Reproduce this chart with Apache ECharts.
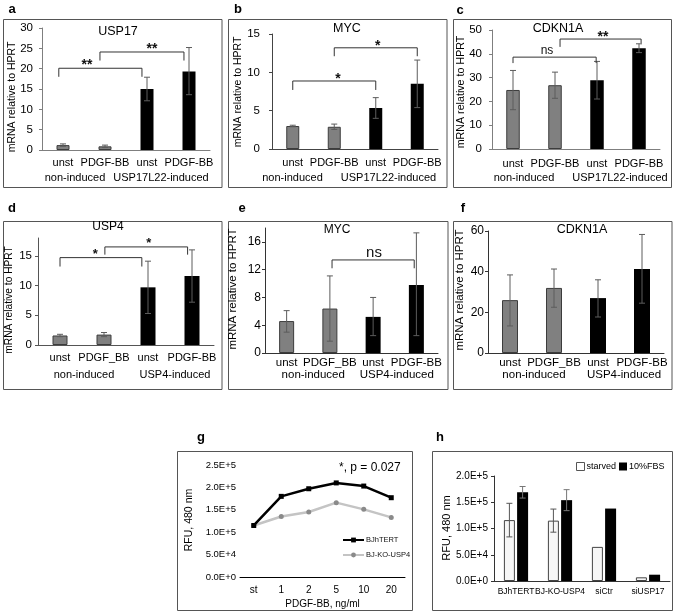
<!DOCTYPE html>
<html>
<head>
<meta charset="utf-8">
<script src="https://cdn.jsdelivr.net/npm/echarts@6/dist/echarts.min.js"></script>
<style>html,body{margin:0;padding:0;background:#fff}#chart{width:675px;height:612px}</style>
</head>
<body>
<div id="chart"></div>
<script>
// ---------------- data ----------------
const topCats = ['unst', 'PDGF-BB', 'unst', 'PDGF-BB'];
const midCats = ['unst', 'PDGF_BB', 'unst', 'PDGF-BB'];
const topGroups = ['non-induced', 'USP17L22-induced'];
const midGroups = ['non-induced', 'USP4-induced'];

const usp17Values = [1.2, 0.9, 15.0, 19.3];
const usp17Errors = [[0.9, 1.5], [0.6, 1.2], [12.1, 17.9], [13.6, 25.2]];
const mycBValues = [3.0, 2.9, 5.35, 8.5];
const mycBErrors = [[2.9, 3.1], [2.55, 3.25], [4.0, 6.7], [5.4, 11.6]];
const cdkn1aCValues = [24.8, 26.8, 28.9, 42.3];
const cdkn1aCErrors = [[16.5, 33.0], [21.3, 32.3], [21.0, 36.8], [40.5, 44.2]];
const usp4Values = [1.6, 1.75, 9.7, 11.6];
const usp4Errors = [[1.4, 1.8], [1.4, 2.1], [5.3, 14.1], [7.2, 16.0]];
const mycEValues = [4.6, 6.4, 5.2, 9.8];
const mycEErrors = [[3.0, 6.1], [1.7, 11.1], [2.5, 8.0], [2.5, 17.3]];
const cdkn1aFValues = [26.0, 32.0, 27.0, 41.3];
const cdkn1aFErrors = [[13.3, 38.4], [22.5, 41.3], [17.7, 36.0], [24.5, 58.3]];

// significance brackets: [fromCat, toCat, topValue, leftEndValue, rightEndValue, labelCat, labelValue, text]
const usp17Brackets = [[-0.1, 1.88, 20.1, 18.0, 18.0, 0.57, 20.8, '**'], [0.88, 2.88, 24.1, 22.0, 22.0, 2.12, 24.8, '**']];
const mycBBrackets = [[0, 2, 8.87, 7.7, 7.7, 1.09, 9.1, '*'], [1, 3, 13.2, 12.1, 12.1, 2.05, 13.4, '*']];
const cdkn1aCBrackets = [[0, 1.98, 38.6, 36.1, 36.1, 0.81, 41.2, 'ns'], [1.12, 3.05, 46.2, 42.9, 44.5, 2.14, 46.8, '**']];
const usp4Brackets = [[0, 1.86, 14.7, 13.2, 13.2, 0.8, 15.3, '*'], [1.02, 2.9, 16.5, 15.2, 15.2, 2.02, 17.1, '*']];
const mycEBrackets = [[1.05, 2.95, 13.4, 12.2, 12.2, 2.02, 14.4, 'ns']];
const cdkn1aFBrackets = [];

const doseLabels = ['st', '1', '2', '5', '10', '20'];
const bjhtertRFU = [1.15e5, 1.80e5, 1.97e5, 2.10e5, 2.03e5, 1.77e5];
const koUsp4RFU = [1.15e5, 1.35e5, 1.45e5, 1.66e5, 1.51e5, 1.33e5];
const lineNames = ['BJhTERT', 'BJ-KO-USP4'];

const cellLines = ['BJhTERT', 'BJ-KO-USP4', 'siCtr', 'siUSP17'];
const barNames = ['starved', '10%FBS'];
const starvedRFU = [1.16e5, 1.15e5, 6.5e4, 7.0e3];
const fbsRFU = [1.69e5, 1.54e5, 1.38e5, 1.2e4];
const starvedErrors = [[0.84e5, 1.48e5], [0.93e5, 1.37e5], null, null];
const fbsErrors = [[1.58e5, 1.80e5], [1.34e5, 1.74e5], null, null];

// ---------------- helpers ----------------
const FONT = "'Liberation Sans', Arial, sans-serif";
function pt(api, cat, val) {
  const base = api.coord([0, val]);
  const band = api.size([1, 0])[0];
  return [base[0] + cat * band, base[1]];
}
function errRender(offsetPx, color) {
  return function (params, api) {
    const cat = api.value(0), lo = api.value(1), hi = api.value(2);
    const a = pt(api, cat, lo), b = pt(api, cat, hi);
    const x = a[0] + offsetPx, cap = 3;
    const st = {stroke: color, lineWidth: 1, fill: null};
    return {type: 'group', children: [
      {type: 'line', shape: {x1: x, y1: a[1], x2: x, y2: b[1]}, style: st},
      {type: 'line', shape: {x1: x - cap, y1: a[1], x2: x + cap, y2: a[1]}, style: st},
      {type: 'line', shape: {x1: x - cap, y1: b[1], x2: x + cap, y2: b[1]}, style: st}
    ]};
  };
}
function bracketRender(list, textFont) {
  return function (params, api) {
    const b = list[params.dataIndex];
    const p1 = pt(api, b[0], b[3]), p2 = pt(api, b[0], b[2]), p3 = pt(api, b[1], b[2]), p4 = pt(api, b[1], b[4]);
    const t = pt(api, b[5], b[6]);
    const isStar = b[7].indexOf('*') >= 0;
    return {type: 'group', children: [
      {type: 'polyline', shape: {points: [p1, p2, p3, p4]}, style: {stroke: '#333', lineWidth: 1, fill: null}},
      {type: 'text', x: t[0], y: t[1], style: {text: b[7], font: isStar ? textFont.star : textFont.ns, fill: '#111',
        align: 'center', verticalAlign: 'middle', textAlign: 'center', textVerticalAlign: 'middle'}}
    ]};
  };
}
function shiftPad(s) { return s < 0 ? [0, -2 * s, 0, 0] : [0, 0, 0, 2 * s]; }
function sci(v) {
  if (v === 0) return '0.0E+0';
  const e = Math.floor(Math.log10(v) + 1e-9);
  return (v / Math.pow(10, e)).toFixed(1) + 'E+' + e;
}

// ---------------- panel layout ----------------
const panels = [
  {letter: 'a', lx: 12, ly: 9, box: [3.5, 19.5, 218.5, 168], grid: {left: 42, top: 28, width: 168, height: 122},
   max: 30, interval: 5, cats: topCats, groups: topGroups, gShift: [-9, -7], vals: usp17Values, errs: usp17Errors,
   brackets: usp17Brackets, title: 'USP17', tx: 118, ty: 32, tsize: 12.5, yn: [12, 97], ynSize: 10.5, lsize: 11,
   ymargin: 9, xmargin: 7, goff: 15, barW: 13, axisColor: '#7f7f7f', star: 'bold 14px', ns: '11px'},
  {letter: 'b', lx: 238, ly: 9, box: [228.5, 19.5, 218.5, 168], grid: {left: 272, top: 34, width: 166, height: 115},
   max: 15, interval: 5, cats: topCats, groups: topGroups, gShift: [-21, -8], vals: mycBValues, errs: mycBErrors,
   brackets: mycBBrackets, title: 'MYC', tx: 347, ty: 29, tsize: 12.5, yn: [238.5, 92], ynSize: 10.5, lsize: 11,
   ymargin: 12, xmargin: 8, goff: 15, barW: 13, axisColor: '#444', star: 'bold 14px', ns: '11px'},
  {letter: 'c', lx: 460, ly: 10, box: [453.5, 19.5, 218, 168], grid: {left: 492, top: 30, width: 168, height: 119},
   max: 50, interval: 10, cats: topCats, groups: topGroups, gShift: [-10, 2], vals: cdkn1aCValues, errs: cdkn1aCErrors,
   brackets: cdkn1aCBrackets, title: 'CDKN1A', tx: 558, ty: 29, tsize: 12.5, yn: [461, 92], ynSize: 10.7, lsize: 11,
   ymargin: 10, xmargin: 9, goff: 14, barW: 13.5, axisColor: '#7f7f7f', star: 'bold 14px', ns: '12px'},
  {letter: 'd', lx: 12, ly: 208, box: [3.5, 221.5, 218.5, 168], grid: {left: 38, top: 238, width: 176, height: 107},
   max: 18, interval: 5, ticks: [0, 5, 10, 15], cats: midCats, groups: midGroups, gShift: [2, 5], vals: usp4Values, errs: usp4Errors,
   brackets: usp4Brackets, title: 'USP4', tx: 108, ty: 227, tsize: 12, yn: [9, 300], ynSize: 10.2, lsize: 11,
   ymargin: 6, xmargin: 7, goff: 17, barW: 15, axisColor: '#555', star: 'bold 13px', ns: '12px'},
  {letter: 'e', lx: 242, ly: 208, box: [228.5, 221.5, 219.5, 168], grid: {left: 265, top: 228, width: 173, height: 125},
   max: 18, interval: 4, ticks: [0, 4, 8, 12, 16], cats: midCats, groups: midGroups, gShift: [5, 2], vals: mycEValues, errs: mycEErrors,
   brackets: mycEBrackets, title: 'MYC', tx: 337, ty: 230, tsize: 12, yn: [232.5, 289], ynSize: 11.5, lsize: 11.5,
   ymargin: 4, xmargin: 4, goff: 12, barW: 15, axisColor: '#333', star: 'bold 13px', ns: '15px'},
  {letter: 'f', lx: 463, ly: 208, box: [453.5, 221.5, 218.5, 168], grid: {left: 488, top: 231, width: 176, height: 122},
   max: 60, interval: 20, cats: midCats, groups: midGroups, gShift: [2, 4], vals: cdkn1aFValues, errs: cdkn1aFErrors,
   brackets: cdkn1aFBrackets, title: 'CDKN1A', tx: 582, ty: 230, tsize: 12.5, yn: [460, 290], ynSize: 11.5, lsize: 11.5,
   ymargin: 4, xmargin: 4, goff: 12, barW: 16, axisColor: '#333', star: 'bold 13px', ns: '12px'}
];

const option = {
  animation: false,
  backgroundColor: '#fff',
  textStyle: {fontFamily: FONT},
  grid: [], xAxis: [], yAxis: [], series: [], legend: [], graphic: []
};

const GRAY = {color: '#808080', borderColor: '#3c3c3c', borderWidth: 1};
const BLACK = {color: '#000'};

panels.forEach((p, i) => {
  option.grid.push(Object.assign({}, p.grid));
  const xi = option.xAxis.length;
  option.xAxis.push({type: 'category', gridIndex: i, data: p.cats,
    axisLine: {lineStyle: {color: p.axisColor, width: 1}}, axisTick: {show: false},
    axisLabel: {interval: 0, margin: p.xmargin, fontSize: p.lsize, color: '#000', fontFamily: FONT}});
  const rs = {fontSize: p.lsize, color: '#000', fontFamily: FONT};
  option.xAxis.push({type: 'category', gridIndex: i, position: 'bottom', offset: p.goff, data: p.groups,
    axisLine: {show: false}, axisTick: {show: false},
    axisLabel: {interval: 0, margin: p.xmargin, fontSize: p.lsize, color: '#000', fontFamily: FONT,
      formatter: (v, idx) => '{g' + idx + '|' + v + '}',
      rich: {g0: Object.assign({padding: shiftPad(p.gShift[0])}, rs), g1: Object.assign({padding: shiftPad(p.gShift[1])}, rs)}}});
  const ya = {type: 'value', gridIndex: i, min: 0, max: p.max, interval: p.interval,
    axisLine: {show: true, lineStyle: {color: p.axisColor, width: 1}},
    axisTick: {show: true, length: 3, lineStyle: {color: p.axisColor}},
    splitLine: {show: false},
    axisLabel: {margin: p.ymargin, fontSize: p.lsize + 0.5, color: '#000', fontFamily: FONT}};
  if (p.ticks) { ya.axisLabel.customValues = p.ticks; ya.axisTick.customValues = p.ticks; }
  option.yAxis.push(ya);
  option.series.push({type: 'bar', xAxisIndex: xi, yAxisIndex: i, barWidth: p.barW, z: 2,
    data: p.vals.map((v, k) => ({value: v, itemStyle: k < 2 ? GRAY : BLACK}))});
  option.series.push({type: 'custom', xAxisIndex: xi, yAxisIndex: i, z: 3, silent: true,
    data: p.errs.map((e, k) => [k, e[0], e[1]]), renderItem: errRender(0, '#5c5c5c')});
  if (p.brackets.length) {
    option.series.push({type: 'custom', xAxisIndex: xi, yAxisIndex: i, z: 4, silent: true,
      data: p.brackets.map(b => [0, b[2]]),
      renderItem: bracketRender(p.brackets, {star: p.star + ' ' + FONT, ns: p.ns + ' ' + FONT})});
  }
  option.graphic.push({type: 'rect', shape: {x: p.box[0], y: p.box[1], width: p.box[2], height: p.box[3]},
    style: {fill: null, stroke: '#555', lineWidth: 1}, silent: true});
  option.graphic.push({type: 'text', x: p.lx, y: p.ly, style: {text: p.letter, font: 'bold 13px ' + FONT, fill: '#000',
    align: 'center', verticalAlign: 'middle', textAlign: 'center', textVerticalAlign: 'middle'}});
  option.graphic.push({type: 'text', x: p.tx, y: p.ty, style: {text: p.title, font: p.tsize + 'px ' + FONT, fill: '#000',
    align: 'center', verticalAlign: 'middle', textAlign: 'center', textVerticalAlign: 'middle'}});
  option.graphic.push({type: 'text', x: p.yn[0], y: p.yn[1], rotation: Math.PI / 2,
    style: {text: 'mRNA relative to HPRT', font: p.ynSize + 'px ' + FONT, fill: '#000',
    align: 'center', verticalAlign: 'middle', textAlign: 'center', textVerticalAlign: 'middle'}});
});

// ---------------- panel g (line chart) ----------------
const gi = option.grid.length;
option.grid.push({left: 240, top: 465, width: 165, height: 112});
const gx = option.xAxis.length;
option.xAxis.push({type: 'category', gridIndex: gi, data: doseLabels,
  axisLine: {lineStyle: {color: '#000', width: 1}}, axisTick: {show: false},
  axisLabel: {interval: 0, margin: 8, fontSize: 10, color: '#000'},
  name: 'PDGF-BB, ng/ml', nameLocation: 'middle', nameGap: 22, nameTextStyle: {fontSize: 10, color: '#000'}});
option.yAxis.push({type: 'value', gridIndex: gi, min: 0, max: 2.5e5, interval: 5e4,
  axisLine: {show: false}, axisTick: {show: false}, splitLine: {show: false},
  axisLabel: {margin: 4, fontSize: 9.5, color: '#000', formatter: sci}});
option.series.push({name: lineNames[0], type: 'line', xAxisIndex: gx, yAxisIndex: gi, data: bjhtertRFU,
  symbol: 'rect', symbolSize: 5, lineStyle: {color: '#000', width: 2.5}, itemStyle: {color: '#000'}, z: 3});
option.series.push({name: lineNames[1], type: 'line', xAxisIndex: gx, yAxisIndex: gi, data: koUsp4RFU,
  symbol: 'circle', symbolSize: 5, lineStyle: {color: '#c4c4c4', width: 2.5}, itemStyle: {color: '#8a8a8a'}, z: 2});
option.series.push({type: 'custom', xAxisIndex: gx, yAxisIndex: gi, silent: true, data: [[3, 2.45e5]],
  renderItem: function (params, api) {
    const t = pt(api, 3.1, api.value(1));
    return {type: 'text', x: t[0], y: t[1], style: {text: '*, p = 0.027', font: '12px ' + FONT, fill: '#000',
      align: 'left', verticalAlign: 'middle', textAlign: 'left', textVerticalAlign: 'middle'}};
  }});
option.legend.push({data: lineNames, left: 337, top: 531, orient: 'vertical', itemWidth: 21, itemHeight: 6, itemGap: 7,
  textStyle: {fontSize: 7.5, color: '#111', fontFamily: FONT, padding: [0, 0, 0, -3]}});
option.graphic.push({type: 'rect', shape: {x: 177.5, y: 451.5, width: 235, height: 159},
  style: {fill: null, stroke: '#555', lineWidth: 1}, silent: true});
option.graphic.push({type: 'text', x: 201, y: 437, style: {text: 'g', font: 'bold 13px ' + FONT, fill: '#000',
  align: 'center', verticalAlign: 'middle', textAlign: 'center', textVerticalAlign: 'middle'}});
option.graphic.push({type: 'text', x: 189, y: 520, rotation: Math.PI / 2, style: {text: 'RFU, 480 nm', font: '10.5px ' + FONT,
  fill: '#000', align: 'center', verticalAlign: 'middle', textAlign: 'center', textVerticalAlign: 'middle'}});

// ---------------- panel h (grouped bars) ----------------
const hi = option.grid.length;
option.grid.push({left: 494, top: 476, width: 176, height: 105});
const hx = option.xAxis.length;
option.xAxis.push({type: 'category', gridIndex: hi, data: cellLines,
  axisLine: {lineStyle: {color: '#333', width: 1}}, axisTick: {show: false},
  axisLabel: {interval: 0, margin: 6, fontSize: 8.5, color: '#000'}});
option.yAxis.push({type: 'value', gridIndex: hi, min: 0, max: 2e5, interval: 5e4,
  axisLine: {show: true, lineStyle: {color: '#333'}}, axisTick: {show: true, length: 3, lineStyle: {color: '#333'}},
  splitLine: {show: false}, axisLabel: {margin: 6, fontSize: 10, color: '#000', formatter: sci}});
option.series.push({name: barNames[0], type: 'bar', xAxisIndex: hx, yAxisIndex: hi, data: starvedRFU,
  barWidth: 11, barGap: '20%', itemStyle: {color: '#f6f6f6', borderColor: '#444', borderWidth: 1}, z: 2});
option.series.push({name: barNames[1], type: 'bar', xAxisIndex: hx, yAxisIndex: hi, data: fbsRFU,
  barWidth: 11, barGap: '20%', itemStyle: {color: '#000'}, z: 2});
option.series.push({type: 'custom', xAxisIndex: hx, yAxisIndex: hi, z: 3, silent: true,
  data: starvedErrors.map((e, k) => e ? [k, e[0], e[1]] : null).filter(Boolean), renderItem: errRender(-6.6, '#555')});
option.series.push({type: 'custom', xAxisIndex: hx, yAxisIndex: hi, z: 3, silent: true,
  data: fbsErrors.map((e, k) => e ? [k, e[0], e[1]] : null).filter(Boolean), renderItem: errRender(6.6, '#777')});
option.legend.push({data: [{name: barNames[0], itemStyle: {color: '#fff', borderColor: '#555', borderWidth: 1}}, {name: barNames[1]}],
  left: 571, top: 457, width: 140, orient: 'horizontal', itemWidth: 8, itemHeight: 8, itemGap: 3, icon: 'rect',
  textStyle: {fontSize: 9, color: '#000', fontFamily: FONT, padding: [0, 0, 0, -3]}});
option.graphic.push({type: 'rect', shape: {x: 432.5, y: 451.5, width: 240, height: 159},
  style: {fill: null, stroke: '#555', lineWidth: 1}, silent: true});
option.graphic.push({type: 'text', x: 440, y: 437, style: {text: 'h', font: 'bold 13px ' + FONT, fill: '#000',
  align: 'center', verticalAlign: 'middle', textAlign: 'center', textVerticalAlign: 'middle'}});
option.graphic.push({type: 'text', x: 447, y: 528, rotation: Math.PI / 2, style: {text: 'RFU, 480 nm', font: '11px ' + FONT,
  fill: '#000', align: 'center', verticalAlign: 'middle', textAlign: 'center', textVerticalAlign: 'middle'}});

const chart = echarts.init(document.getElementById('chart'), null, {renderer: 'canvas'});
chart.setOption(option);
</script>
</body>
</html>
